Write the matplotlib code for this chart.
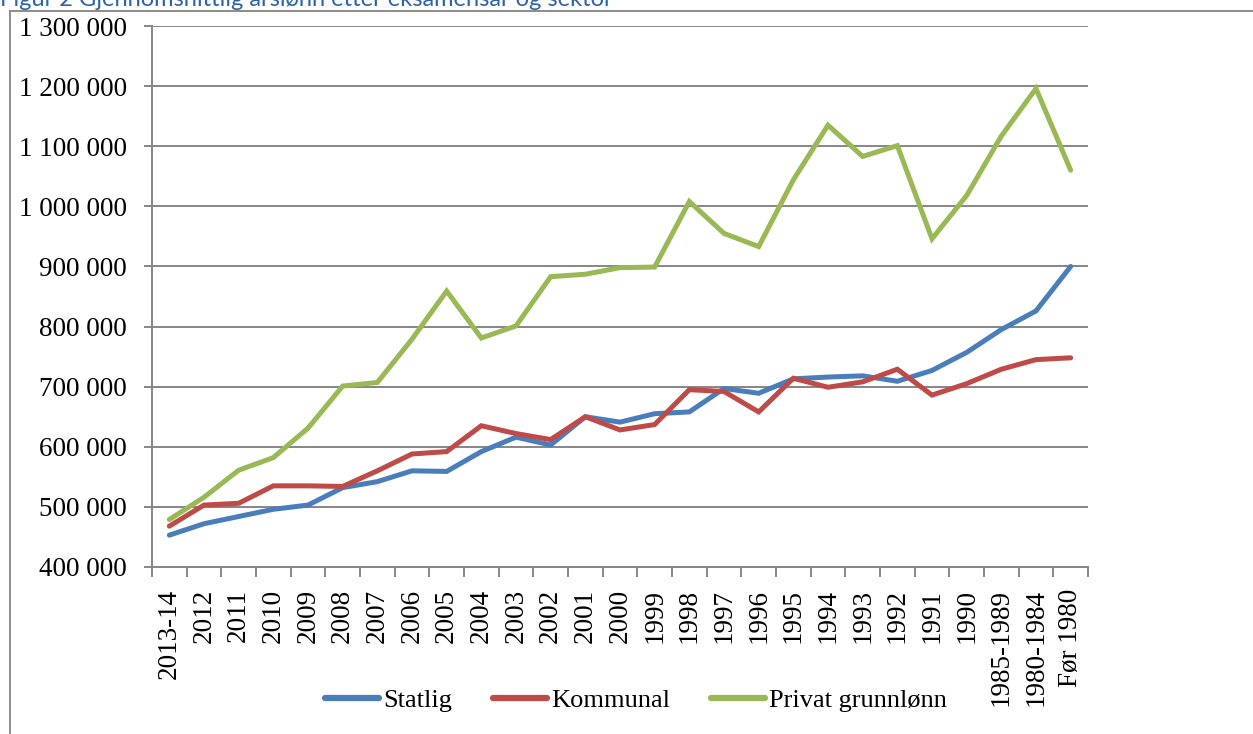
import numpy as np
import matplotlib
matplotlib.use('Agg')
import matplotlib.pyplot as plt
from matplotlib.lines import Line2D

# data (average yearly salary by exam year and sector)
categories = ['2013-14', '2012', '2011', '2010', '2009', '2008', '2007', '2006',
              '2005', '2004', '2003', '2002', '2001', '2000', '1999', '1998',
              '1997', '1996', '1995', '1994', '1993', '1992', '1991', '1990',
              '1985-1989', '1980-1984', 'Før 1980']

statlig = [453000, 472000, 484000, 496000, 503000, 532000, 542000, 560000,
           559000, 592000, 616000, 603000, 650000, 641000, 655000, 658000,
           697000, 689000, 713000, 716000, 718000, 709000, 727000, 757000,
           795000, 826000, 900000]

kommunal = [468000, 503000, 506000, 535000, 535000, 534000, 560000, 588000,
            592000, 635000, 622000, 612000, 650000, 628000, 637000, 695000,
            692000, 658000, 714000, 699000, 708000, 729000, 686000, 705000,
            729000, 745000, 748000]

privat = [479000, 516000, 561000, 582000, 631000, 701000, 707000, 779000,
          859000, 781000, 801000, 883000, 887000, 898000, 899000, 1008000,
          955000, 933000, 1044000, 1135000, 1083000, 1101000, 946000, 1018000,
          1117000, 1196000, 1060000]

series_names = ['Statlig', 'Kommunal', 'Privat grunnlønn']
colors = ['#4A7EBB', '#BE4B48', '#98B954']

yticks = np.arange(400000, 1300001, 100000)

def fmt(v):
    return f'{v:,}'.replace(',', ' ')

W, H = 1253, 734
fig = plt.figure(figsize=(W / 100, H / 100), dpi=100)
ax = fig.add_axes([152 / W, 1 - 567 / H, (1088 - 152) / W, (567 - 26) / H])

x = np.arange(len(categories))
for vals, name, c in zip([statlig, kommunal, privat], series_names, colors):
    ax.plot(x, vals, color=c, lw=3.6, label=name, solid_capstyle='round',
            solid_joinstyle='miter')

grid_c = '#868686'
ax.set_xlim(-0.5, len(categories) - 0.5)
ax.set_ylim(yticks[0], yticks[-1])
ax.set_yticks(yticks)
ax.set_yticklabels([fmt(v) for v in yticks], fontsize=19.5,
                   family='Liberation Serif')
ax.yaxis.grid(True, color=grid_c, lw=1.4)
ax.set_axisbelow(True)

ax.set_xticks(x)
ax.set_xticklabels(categories, rotation=90, fontsize=19.5,
                   family='Liberation Serif', va='top', ha='center')
ax.set_xticks(np.arange(len(categories) + 1) - 0.5, minor=True)
ax.tick_params(axis='x', which='major', length=0, pad=16)
ax.tick_params(axis='x', which='minor', length=7, width=1.4, color=grid_c)
ax.tick_params(axis='y', length=6, width=1.4, color=grid_c, pad=12)

for s in ['top', 'right']:
    ax.spines[s].set_visible(False)
for s in ['left', 'bottom']:
    ax.spines[s].set_color(grid_c)
    ax.spines[s].set_linewidth(1.4)

leg = fig.legend(loc='center', bbox_to_anchor=(636 / W, 1 - 700 / H), ncol=3,
                 frameon=False, handlelength=2.05, handletextpad=0.15,
                 columnspacing=1.55, prop={'family': 'Liberation Serif', 'size': 19})
for h in leg.legend_handles:
    h.set_linewidth(4.5)
    h.set_solid_capstyle('round')

# chart area border (only left and top show) and clipped caption
fig.add_artist(Line2D([10 / W, 10 / W], [0, 1 - 11 / H], transform=fig.transFigure,
                      color='#8C8C8C', lw=1.4))
fig.add_artist(Line2D([10 / W, 1], [1 - 11 / H, 1 - 11 / H], transform=fig.transFigure,
                      color='#8C8C8C', lw=1.4))
fig.text(0.0, 1 - 6 / H, 'Figur 2 Gjennomsnittlig årslønn etter eksamensår og sektor',
         fontsize=17, color='#2E63A8', family='Lato', va='baseline', ha='left')

fig.savefig('out.png', dpi=100)
